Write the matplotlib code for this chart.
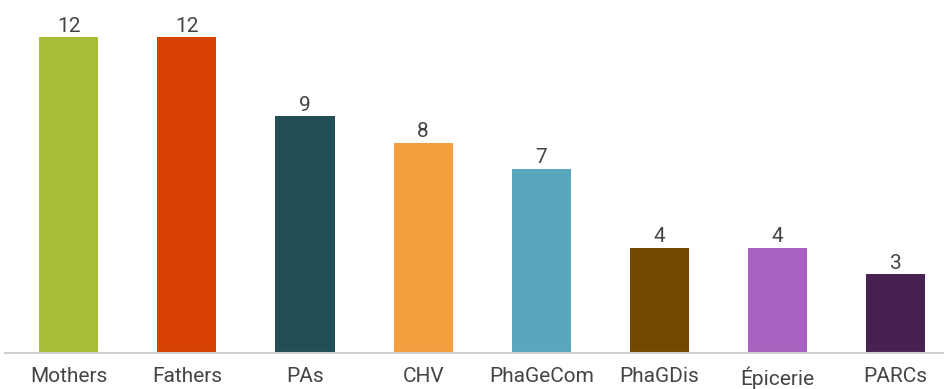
import matplotlib
matplotlib.use("Agg")
import matplotlib.pyplot as plt

plt.rcParams['font.family'] = ['Roboto', 'DejaVu Sans']

groups = ["Mothers", "Fathers", "PAs", "CHV", "PhaGeCom", "PhaGDis", "Épicerie", "PARCs"]
counts = [12, 12, 9, 8, 7, 4, 4, 3]
colors = ["#a9bd38", "#d64000", "#234d57", "#f39f3f", "#5aa6bd", "#734800", "#a863c0", "#482153"]

fig = plt.figure(figsize=(9.44, 3.89), dpi=100)
ax = fig.add_axes([5 / 944, 36 / 389, 939 / 944, 353 / 389])

x = range(len(groups))
bars = ax.bar(x, counts, width=0.5, color=colors, zorder=2)
for b, v in zip(bars, counts):
    ax.text(b.get_x() + b.get_width() / 2, v + 0.06, str(v), ha="center", va="bottom",
            fontsize=15, color="#444444")

ax.set_xlim(-0.54, 7.41)
ax.set_ylim(0, 13.42)
ax.set_xticks(list(x))
ax.set_xticklabels(groups, fontsize=15, color="#444444")
ax.tick_params(axis="x", length=0, pad=10)
ax.set_yticks([])
for s in ["top", "right", "left"]:
    ax.spines[s].set_visible(False)
ax.spines["bottom"].set_color("#d0d0d0")
ax.spines["bottom"].set_linewidth(1.5)

fig.savefig("out.png", dpi=100)
